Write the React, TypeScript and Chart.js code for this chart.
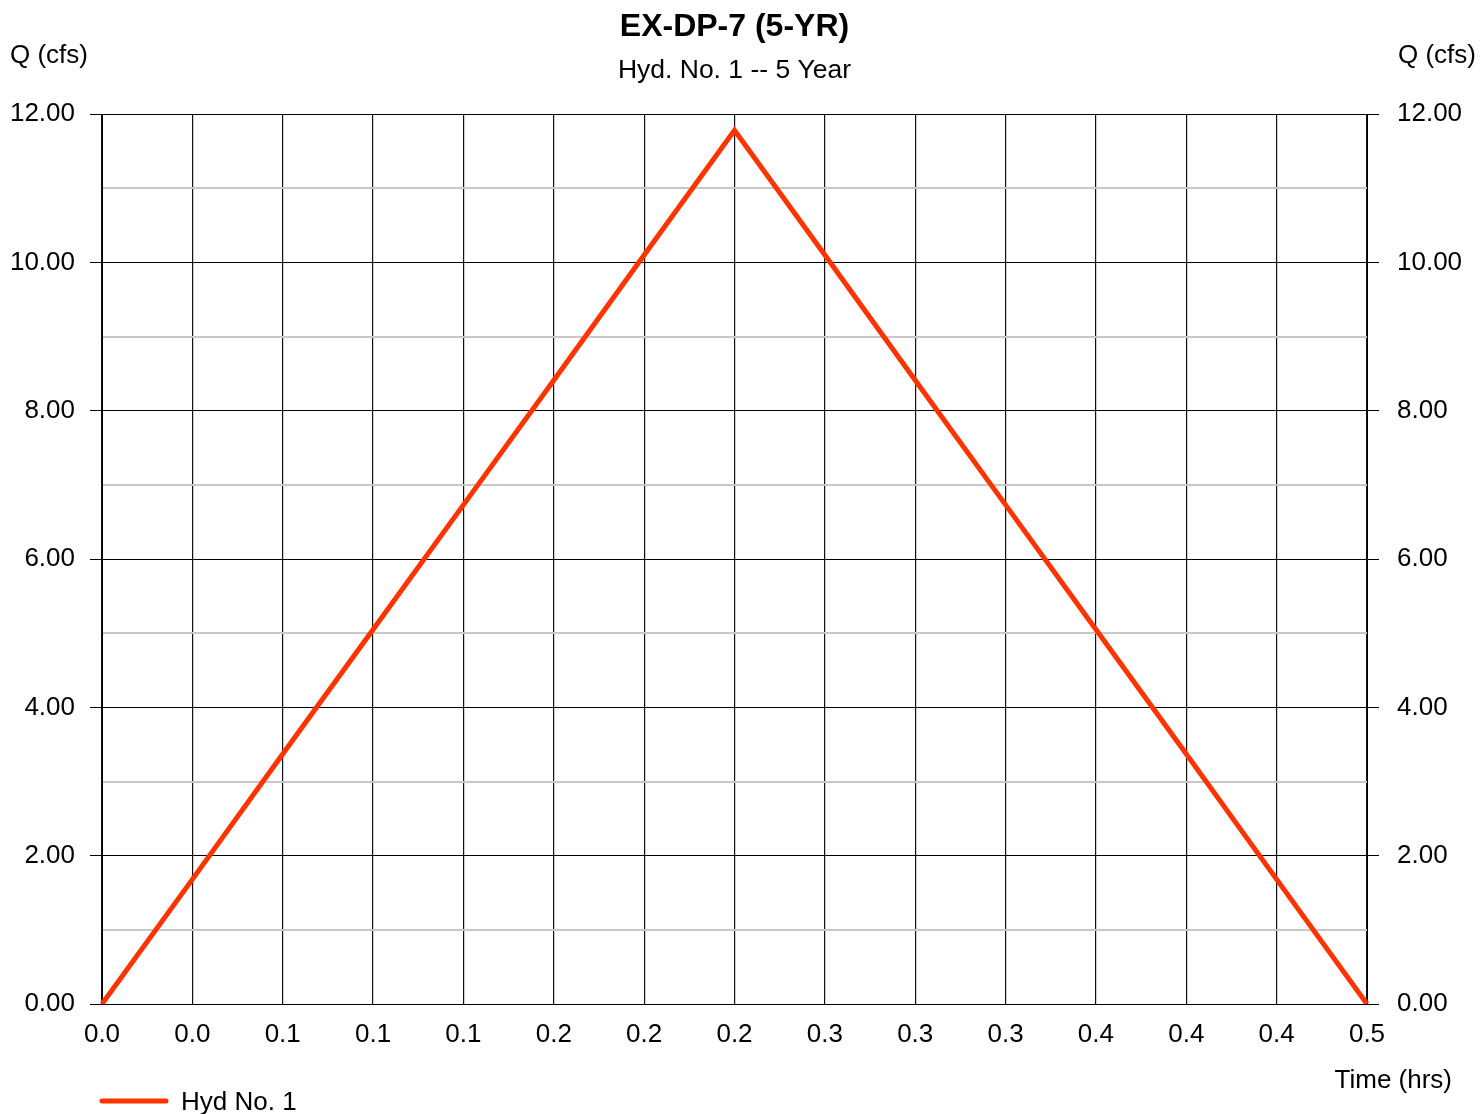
import React, { useEffect, useRef } from "react";
import { Chart, registerables } from "chart.js";

Chart.register(...registerables);

const timeLabels = ["0.0", "0.0", "0.1", "0.1", "0.1", "0.2", "0.2", "0.2", "0.3", "0.3", "0.3", "0.4", "0.4", "0.4", "0.5"];
const hydValues = [0, 1.68, 3.37, 5.05, 6.73, 8.41, 10.1, 11.78, 10.1, 8.41, 6.73, 5.05, 3.37, 1.68, 0];
const seriesName = "Hyd No. 1";
const chartTitle = "EX-DP-7 (5-YR)";
const chartSubtitle = "Hyd. No. 1 -- 5 Year";
const yAxisTitle = "Q (cfs)";
const xAxisTitle = "Time (hrs)";

const FONT = "'Liberation Sans', Arial, sans-serif";
const LINE_COLOR = "rgb(255,51,0)";

export default function App() {
  const ref = useRef<HTMLCanvasElement | null>(null);

  useEffect(() => {
    document.body.style.margin = "0";
    const canvas = ref.current!;
    const textPlugin = {
      id: "texts",
      afterDraw(chart: any) {
        const ctx = chart.ctx;
        const area = chart.chartArea;
        ctx.save();
        ctx.fillStyle = "#000";
        ctx.textBaseline = "middle";
        ctx.textAlign = "center";
        ctx.font = `bold 32px ${FONT}`;
        ctx.fillText(chartTitle, (area.left + area.right) / 2, 27);
        ctx.font = `26.5px ${FONT}`;
        ctx.fillText(chartSubtitle, (area.left + area.right) / 2, 71);
        ctx.font = `26px ${FONT}`;
        ctx.textAlign = "left";
        ctx.fillText(yAxisTitle, 10, 56);
        ctx.fillText(yAxisTitle, 1398, 56);
        ctx.textAlign = "right";
        ctx.fillText(xAxisTitle, 1452, 1081);
        // legend
        ctx.strokeStyle = LINE_COLOR;
        ctx.lineWidth = 5;
        ctx.lineCap = "round";
        ctx.beginPath();
        ctx.moveTo(102, 1101);
        ctx.lineTo(166, 1101);
        ctx.stroke();
        ctx.textAlign = "left";
        ctx.fillText(seriesName, 181, 1103);
        ctx.restore();
      },
    };

    const yTickCb = (v: any) => (Math.round(v) % 2 === 0 ? Number(v).toFixed(2) : "");
    const gridColor = (c: any) => (c.tick && Math.round(c.tick.value) % 2 === 0 ? "#000" : "#c8c8c8");
    const gridWidth = (c: any) => (c.tick && Math.round(c.tick.value) % 2 === 0 ? 1 : 2);
    const tickColor = (c: any) => (c.tick && Math.round(c.tick.value) % 2 === 0 ? "#000" : "rgba(0,0,0,0)");

    const chart = new Chart(canvas, {
      type: "line",
      data: {
        labels: timeLabels,
        datasets: [
          {
            label: seriesName,
            data: hydValues,
            borderColor: LINE_COLOR,
            backgroundColor: LINE_COLOR,
            borderWidth: 5,
            pointRadius: 0,
            tension: 0,
            fill: false,
          },
        ],
      },
      options: {
        animation: false,
        responsive: false,
        layout: { padding: { top: 114, left: 0, right: 0, bottom: 0 } },
        plugins: { legend: { display: false }, title: { display: false }, tooltip: { enabled: false } },
        scales: {
          x: {
            type: "category",
            offset: false,
            grid: { color: "#111", lineWidth: 1.2, drawTicks: false, offset: false },
            border: { display: true, color: "#000" },
            ticks: { autoSkip: false, maxRotation: 0, color: "#000", font: { family: FONT, size: 26 }, padding: 15 },
            afterFit: (s: any) => { s.height = 110; },
          },
          y: {
            type: "linear",
            position: "left",
            min: 0,
            max: 12,
            ticks: { stepSize: 1, callback: yTickCb, color: "#000", font: { family: FONT, size: 26 }, padding: 15 },
            grid: { color: gridColor, lineWidth: gridWidth, tickColor: tickColor, tickLength: 12, tickWidth: 1 },
            border: { display: true, color: "#000" },
            afterFit: (s: any) => { s.width = 102; },
          },
          y2: {
            type: "linear",
            position: "right",
            min: 0,
            max: 12,
            ticks: { stepSize: 1, callback: yTickCb, color: "#000", font: { family: FONT, size: 26 }, padding: 18 },
            grid: { drawOnChartArea: false, color: gridColor, tickColor: tickColor, tickLength: 12, tickWidth: 1 },
            border: { display: true, color: "#000" },
            afterFit: (s: any) => { s.width = 114; },
          },
        },
      },
      plugins: [textPlugin],
    } as any);
    return () => chart.destroy();
  }, []);

  return <canvas ref={ref} width={1481} height={1114} style={{ display: "block", width: 1481, height: 1114 }} />;
}
